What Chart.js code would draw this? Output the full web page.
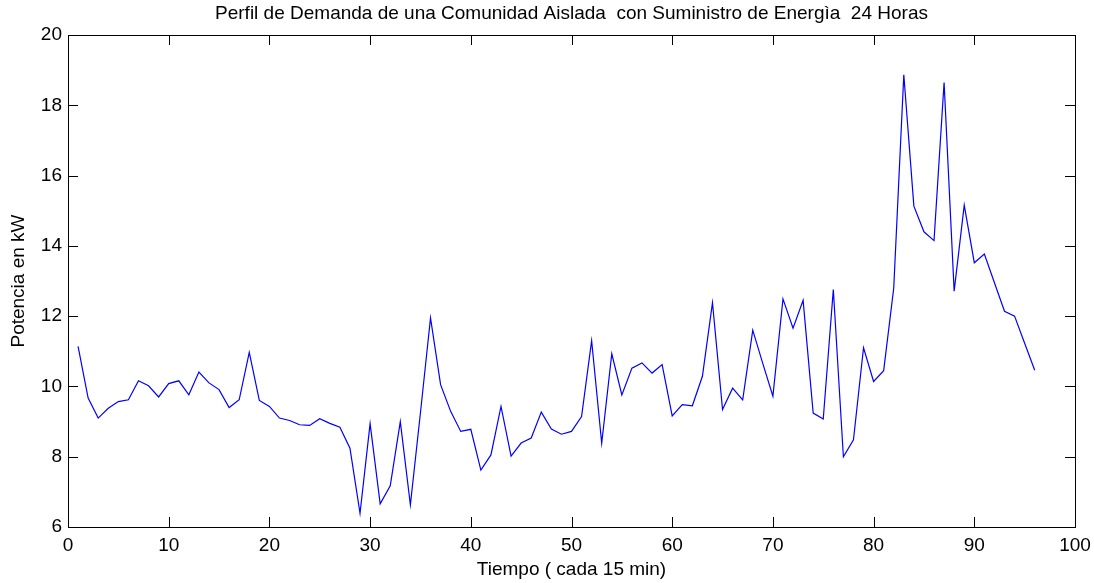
<!DOCTYPE html>
<html>
<head>
<meta charset="utf-8">
<script src="https://cdn.jsdelivr.net/npm/chart.js@4"></script>
<style>
  html, body { margin: 0; padding: 0; background: #fff; }
  #wrap { width: 1094px; height: 583px; }
</style>
</head>
<body>
<div id="wrap"><canvas id="myChart" width="1094" height="583"></canvas></div>
<script>
// datos (cada 15 min)
const tiempo = [1, 2, 3, 4, 5, 6, 7, 8, 9, 10, 11, 12, 13, 14, 15, 16, 17, 18, 19, 20,
  21, 22, 23, 24, 25, 26, 27, 28, 29, 30, 31, 32, 33, 34, 35, 36, 37, 38, 39, 40,
  41, 42, 43, 44, 45, 46, 47, 48, 49, 50, 51, 52, 53, 54, 55, 56, 57, 58, 59, 60,
  61, 62, 63, 64, 65, 66, 67, 68, 69, 70, 71, 72, 73, 74, 75, 76, 77, 78, 79, 80,
  81, 82, 83, 84, 85, 86, 87, 88, 89, 90, 91, 92, 93, 94, 95, 96];
const potencia = [11.14, 9.67, 9.1, 9.38, 9.57, 9.62, 10.16, 10.02, 9.7, 10.08,
  10.16, 9.76, 10.41, 10.1, 9.91, 9.4, 9.62, 10.97, 9.6, 9.43,
  9.1, 9.03, 8.91, 8.89, 9.08, 8.95, 8.84, 8.24, 6.39, 8.94,
  6.66, 7.17, 9.0, 6.63, 9.25, 11.95, 10.05, 9.29, 8.72, 8.78,
  7.62, 8.05, 9.43, 8.02, 8.39, 8.53, 9.27, 8.79, 8.64, 8.72,
  9.14, 11.3, 8.38, 10.93, 9.76, 10.52, 10.67, 10.38, 10.62, 9.16,
  9.48, 9.45, 10.29, 12.38, 9.34, 9.95, 9.62, 11.6, 10.65, 9.72,
  12.49, 11.66, 12.45, 9.24, 9.07, 12.76, 8.0, 8.48, 11.1, 10.14,
  10.45, 12.8, 18.87, 15.13, 14.4, 14.15, 18.65, 12.71, 15.16, 13.52,
  13.77, 12.95, 12.14, 12.0, 11.23, 10.46];
const xTicks = [0, 10, 20, 30, 40, 50, 60, 70, 80, 90, 100];
const yTicks = [6, 8, 10, 12, 14, 16, 18, 20];

const titulo = "Perfil de Demanda de una Comunidad Aislada  con Suministro de Energìa  24 Horas";
const FONT = "'Liberation Sans', Arial, Helvetica, sans-serif";
const SIZE = 19;

// caja, marcas hacia adentro y titulo centrado sobre los ejes, estilo matlab
const boxTicks = {
  id: "boxTicks",
  afterDraw(chart) {
    const { ctx, chartArea: a, scales } = chart;
    const len = 10;
    ctx.save();
    ctx.strokeStyle = "#000";
    ctx.lineWidth = 1;
    ctx.beginPath();
    xTicks.forEach((v) => {
      const px = Math.round(scales.x.getPixelForValue(v)) + 0.5;
      ctx.moveTo(px, a.bottom); ctx.lineTo(px, a.bottom - len);
      ctx.moveTo(px, a.top); ctx.lineTo(px, a.top + len);
    });
    yTicks.forEach((v) => {
      const py = Math.round(scales.y.getPixelForValue(v)) + 0.5;
      ctx.moveTo(a.left, py); ctx.lineTo(a.left + len, py);
      ctx.moveTo(a.right, py); ctx.lineTo(a.right - len, py);
    });
    ctx.stroke();
    ctx.strokeRect(Math.round(a.left) + 0.5, Math.round(a.top) + 0.5,
      Math.round(a.right - a.left), Math.round(a.bottom - a.top));

    ctx.fillStyle = "#000";
    ctx.font = SIZE + "px " + FONT;
    ctx.textAlign = "center";
    ctx.textBaseline = "middle";
    ctx.fillText(titulo, (a.left + a.right) / 2, 14);
    ctx.restore();
  }
};

new Chart(document.getElementById("myChart"), {
  type: "line",
  data: {
    datasets: [{
      data: tiempo.map((t, i) => ({ x: t, y: potencia[i] })),
      borderColor: "rgb(0,0,255)",
      borderWidth: 1.2,
      pointRadius: 0,
      tension: 0,
      fill: false
    }]
  },
  options: {
    responsive: false,
    animation: false,
    layout: { padding: { left: 0, right: 19, top: 35, bottom: 0 } },
    plugins: {
      legend: { display: false },
      tooltip: { enabled: false },
      title: { display: false }
    },
    scales: {
      x: {
        type: "linear",
        min: 0, max: 100,
        afterBuildTicks: (s) => { s.ticks = xTicks.map((v) => ({ value: v })); },
        afterFit: (s) => { s.height = 56; s.paddingLeft = 0; s.paddingRight = 0; },
        grid: { display: false, drawTicks: false },
        border: { display: false },
        ticks: { color: "#000", padding: 7, maxRotation: 0, font: { family: FONT, size: SIZE } },
        title: {
          display: true, text: "Tiempo ( cada 15 min)", color: "#000",
          font: { family: FONT, size: SIZE }, padding: { top: 0, bottom: 1.5 }
        }
      },
      y: {
        min: 6, max: 20,
        afterBuildTicks: (s) => { s.ticks = yTicks.map((v) => ({ value: v })); },
        afterFit: (s) => { s.width = 68; },
        grid: { display: false, drawTicks: false },
        border: { display: false },
        ticks: { color: "#000", padding: 6, font: { family: FONT, size: SIZE } },
        title: {
          display: true, text: "Potencia en kW", color: "#000",
          font: { family: FONT, size: SIZE }, padding: { top: 7, bottom: 0 }
        }
      }
    }
  },
  plugins: [boxTicks]
});
</script>
</body>
</html>
